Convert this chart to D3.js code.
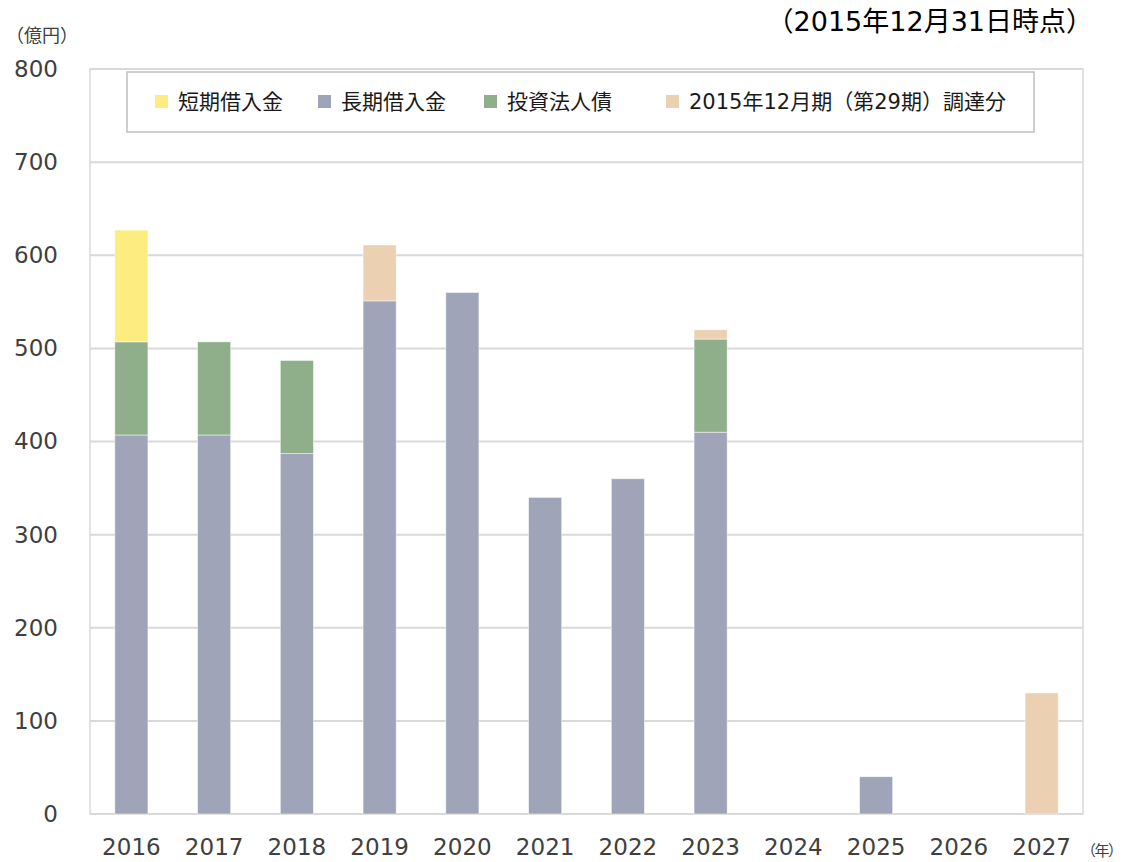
<!DOCTYPE html>
<html>
<head>
<meta charset="utf-8">
<script src="https://cdn.jsdelivr.net/npm/d3@7"></script>
<style>
  body { margin: 0; background: #fff; }
  text { font-family: "DejaVu Sans", "Noto Sans CJK JP", sans-serif; }
</style>
</head>
<body>
<div id="chart"></div>
<script>
// data (億円)
const years = ["2016","2017","2018","2019","2020","2021","2022","2023","2024","2025","2026","2027"];
const longLoan  = [407, 407, 387, 551, 560, 340, 360, 410, 0, 40, 0, 0];
const bonds     = [100, 100, 100, 0, 0, 0, 0, 100, 0, 0, 0, 0];
const shortLoan = [120, 0, 0, 0, 0, 0, 0, 0, 0, 0, 0, 0];
const newFunds  = [0, 0, 0, 60, 0, 0, 0, 10, 0, 0, 0, 130];
const yTicks = [0, 100, 200, 300, 400, 500, 600, 700, 800];

const seriesNames = ["短期借入金", "長期借入金", "投資法人債", "2015年12月期（第29期）調達分"];
const colors = {"長期借入金": "#9fa4b8", "投資法人債": "#8faf8a", "短期借入金": "#fdec80", "2015年12月期（第29期）調達分": "#ebd1b1"};

const width = 1124, height = 862;
const margin = {top: 69, right: 41, bottom: 48, left: 90};

const svg = d3.select("#chart")
  .append("svg")
  .attr("width", width)
  .attr("height", height)

// table for stacking: bottom -> top
const table = years.map((y, i) => ({
  year: y,
  "長期借入金": longLoan[i],
  "投資法人債": bonds[i],
  "短期借入金": shortLoan[i],
  "2015年12月期（第29期）調達分": newFunds[i]
}))
const stackKeys = ["長期借入金", "投資法人債", "短期借入金", "2015年12月期（第29期）調達分"];
const stacked = d3.stack().keys(stackKeys)(table);

const x = d3.scaleBand()
  .domain(years)
  .range([margin.left, width - margin.right])
  .paddingInner(0.6)
  .paddingOuter(0.3);

const y = d3.scaleLinear()
  .domain([0, 800])
  .range([height - margin.bottom, margin.top]);

// gridlines
svg.append("g")
  .selectAll("line")
  .data(yTicks)
  .join("line")
  .attr("x1", margin.left)
  .attr("x2", width - margin.right)
  .attr("y1", d => y(d))
  .attr("y2", d => y(d))
  .attr("stroke", "#d9d9d9")
  .attr("stroke-width", 2)

// plot border left/right
svg.append("rect")
  .attr("x", margin.left)
  .attr("y", y(800))
  .attr("width", width - margin.right - margin.left)
  .attr("height", y(0) - y(800))
  .attr("fill", "none")
  .attr("stroke", "#d9d9d9")
  .attr("stroke-width", 1.5)

// bars
svg.append("g")
  .selectAll("g")
  .data(stacked)
  .join("g")
  .attr("fill", d => colors[d.key])
  .selectAll("rect")
  .data(d => d.filter(s => s[1] - s[0] > 0))
  .join("rect")
  .attr("x", d => x(d.data.year))
  .attr("y", d => y(d[1]))
  .attr("width", x.bandwidth())
  .attr("height", d => y(d[0]) - y(d[1]))
  .attr("stroke", "#ffffff")
  .attr("stroke-opacity", 0.6)
  .attr("stroke-width", 0.8)

// y axis labels
const yAxis = svg.append("g")
  .attr("transform", `translate(${margin.left - 32},0)`)
  .call(d3.axisLeft(y).tickValues(yTicks).tickSize(0).tickPadding(0))
yAxis.select(".domain").remove()
yAxis.selectAll("text")
  .attr("font-size", 23)
  .attr("fill", "#404040")
  .style("font-family", "'DejaVu Sans', sans-serif")

// x axis labels
const xAxis = svg.append("g")
  .attr("transform", `translate(0,${height - margin.bottom + 25})`)
  .call(d3.axisBottom(x).tickSize(0).tickPadding(0))
xAxis.select(".domain").remove()
xAxis.selectAll("text")
  .attr("font-size", 23)
  .attr("fill", "#404040")
  .style("font-family", "'DejaVu Sans', sans-serif")

// unit labels
svg.append("text")
  .attr("x", 6).attr("y", 42)
  .attr("font-size", 18)
  .attr("fill", "#404040")
  .text("（億円）")

svg.append("text")
  .attr("x", 1081).attr("y", 856)
  .attr("font-size", 15)
  .attr("letter-spacing", -1.5)
  .attr("fill", "#404040")
  .text("（年）")

svg.append("text")
  .attr("x", 1093).attr("y", 31)
  .attr("text-anchor", "end")
  .attr("font-size", 27)
  .attr("fill", "#000")
  .text("（2015年12月31日時点）")

// legend
svg.append("rect")
  .attr("x", 127).attr("y", 72)
  .attr("width", 907).attr("height", 60)
  .attr("fill", "#fff")
  .attr("stroke", "#bfbfbf")
  .attr("stroke-width", 1.5)

const legendX = [155, 318, 484, 666];
const items = svg.append("g")
  .selectAll("g")
  .data(seriesNames)
  .join("g")
  .attr("transform", (d, i) => `translate(${legendX[i]},95)`)
items.append("rect")
  .attr("width", 13).attr("height", 13)
  .attr("fill", d => colors[d])
items.append("text")
  .attr("x", 23).attr("y", 14)
  .attr("font-size", 21)
  .attr("fill", "#1a1a1a")
  .text(d => d)
</script>
</body>
</html>
